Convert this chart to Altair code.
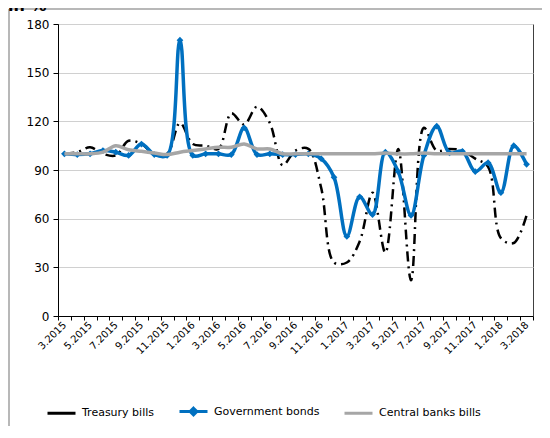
import altair as alt
import pandas as pd

months = ["3.2015", "4.2015", "5.2015", "6.2015", "7.2015", "8.2015", "9.2015", "10.2015",
          "11.2015", "12.2015", "1.2016", "2.2016", "3.2016", "4.2016", "5.2016", "6.2016",
          "7.2016", "8.2016", "9.2016", "10.2016", "11.2016", "12.2016", "1.2017", "2.2017",
          "3.2017", "4.2017", "5.2017", "6.2017", "7.2017", "8.2017", "9.2017", "10.2017",
          "11.2017", "12.2017", "1.2018", "2.2018", "3.2018"]

treasury = [100, 101, 104, 100, 99, 108, 106, 100, 100, 119, 106, 105, 103, 125, 118, 129,
            119, 93, 102, 103, 79, 33, 33, 46, 76, 39, 103, 22, 116, 102, 103, 102, 97, 92,
            48, 45, 62]
government = [100, 99.5, 100, 102, 101, 99, 106, 99.5, 99, 170, 99, 100, 100, 99.5, 116, 99.5,
              100, 99.5, 99.5, 100, 97, 85.5, 49, 73.5, 62.5, 101, 89, 62, 99, 117, 100.5,
              101.5, 89, 94.5, 76, 105, 93.5]
central = [100, 100, 100, 101, 105, 102.5, 101.5, 100.5, 99.5, 101, 102, 103, 104, 104, 106,
           103, 103, 100, 100, 100, 100, 100, 100, 100, 100, 100.5, 100, 100, 100.5, 100, 100,
           100, 100, 100, 100, 100, 100]

series_names = ["Treasury bills", "Government bonds", "Central banks bills"]
series_colors = ["#000000", "#0070C0", "#A6A6A6"]
legend_shapes = ["stroke", "M-1,0L1,0M0,-0.24L0.24,0L0,0.24L-0.24,0Z", "stroke"]
y_ticks = [0, 30, 60, 90, 120, 150, 180]

df = pd.DataFrame({
    "month": months * 3,
    "series": [series_names[0]] * len(months) + [series_names[1]] * len(months) + [series_names[2]] * len(months),
    "value": treasury + government + central,
})

FONT = "DejaVu Sans"
CURVE = "catmull-rom"

x_enc = alt.X(
    "month:N", sort=months, title=None,
    scale=alt.Scale(type="band", paddingInner=0, paddingOuter=0),
    axis=alt.Axis(
        labelAngle=-45, labelAlign="right", labelBaseline="middle", labelFontSize=10,
        labelPadding=3, tickBand="extent", tickSize=4, labelOverlap=False,
        labelExpr="toNumber(split(datum.label, '.')[0]) % 2 == 1 ? datum.label : ''",
        grid=False, domainColor="black", tickColor="black",
    ),
)
y_enc = alt.Y(
    "value:Q", title=None,
    scale=alt.Scale(domain=[0, 180], nice=False, zero=True),
    axis=alt.Axis(values=y_ticks, tickSize=5, labelFontSize=12, labelPadding=4,
                  grid=True, gridColor="#D0D0D0", domainColor="black", tickColor="black"),
)

base = alt.Chart(df).encode(x=x_enc, y=y_enc)

one = pd.DataFrame({"k": [0]})
frame_top = alt.Chart(one).mark_rule(color="#A0A0A0", strokeWidth=1.5).encode(
    x=alt.value(-49), x2=alt.value(520), y=alt.value(-15))
frame_left = alt.Chart(one).mark_rule(color="#A0A0A0", strokeWidth=1.5).encode(
    x=alt.value(-49), y=alt.value(-15), y2=alt.value(420))

title_txt = alt.Chart(pd.DataFrame({"t": ["in %"]})).mark_text(
    align="left", baseline="alphabetic", fontSize=16, fontWeight="bold", font=FONT, color="black"
).encode(x=alt.value(-50), y=alt.value(-13), text="t:N")

black = base.transform_filter(alt.datum.series == series_names[0]).mark_line(
    color=series_colors[0], strokeWidth=2.5, strokeDash=[10, 5, 2, 5], interpolate=CURVE
)
blue_line = base.transform_filter(alt.datum.series == series_names[1]).mark_line(
    color=series_colors[1], strokeWidth=3.5, interpolate=CURVE
)
blue_pts = base.transform_filter(alt.datum.series == series_names[1]).mark_point(
    shape="diamond", filled=True, size=45, color=series_colors[1], opacity=1
)
gray = base.transform_filter(alt.datum.series == series_names[2]).mark_line(
    color=series_colors[2], strokeWidth=3.5, interpolate=CURVE
)

legend_kw = dict(
    orient="none", legendX=-12, legendY=372, direction="horizontal", title=None,
    labelFont=FONT, labelFontSize=11, labelColor="black", symbolSize=784,
    symbolStrokeWidth=3, columnPadding=18, labelOffset=5, padding=0,
)
legend_layer = base.transform_filter("false").mark_point(
    filled=False, strokeWidth=3, opacity=1
).encode(
    color=alt.Color("series:N", scale=alt.Scale(domain=series_names, range=series_colors),
                    legend=alt.Legend(**legend_kw)),
    shape=alt.Shape("series:N", scale=alt.Scale(domain=series_names, range=legend_shapes),
                    legend=alt.Legend(**legend_kw)),
)

chart = alt.layer(frame_top, frame_left, title_txt, black, blue_line, blue_pts, gray,
                  legend_layer).properties(
    width=475, height=292,
    autosize=alt.AutoSizeParams(type="none"),
    padding={"left": 50, "top": 16, "right": 9, "bottom": 110},
).configure_view(
    stroke="#404040", strokeWidth=1
).configure_axis(
    labelFont=FONT, labelColor="black"
)

chart.save("out.html", embed_options={"renderer": "svg", "actions": False})
